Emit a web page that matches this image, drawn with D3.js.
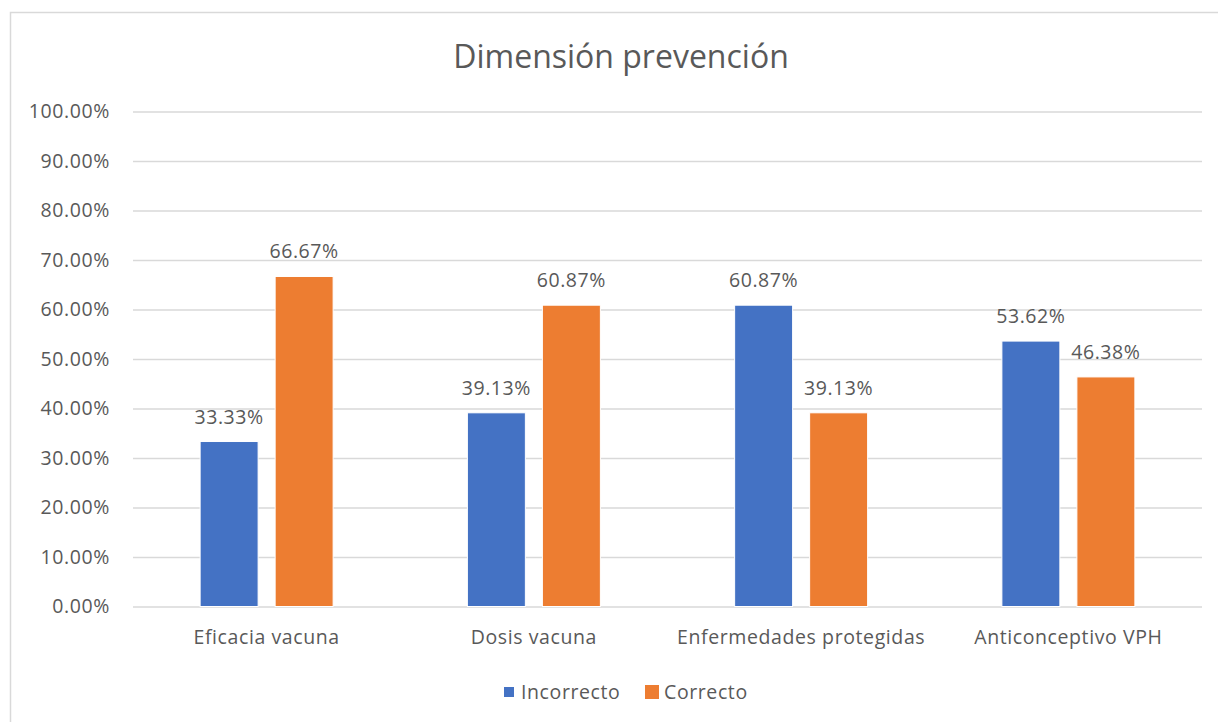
<!DOCTYPE html>
<html>
<head>
<meta charset="utf-8">
<script src="https://cdn.jsdelivr.net/npm/d3@7"></script>
<style>
  body { margin: 0; background: #fff; }
  text { font-family: "Open Sans", sans-serif; fill: #595959; }
</style>
</head>
<body>
<div id="chart"></div>
<script>
var categories = ["Eficacia vacuna", "Dosis vacuna", "Enfermedades protegidas", "Anticonceptivo VPH"]
var series = ["Incorrecto", "Correcto"]
var incorrecto = [33.33, 39.13, 60.87, 53.62]
var correcto = [66.67, 60.87, 39.13, 46.38]
var yTicks = [0, 10, 20, 30, 40, 50, 60, 70, 80, 90, 100]
var colors = ["#4472C4", "#ED7D31"]

var W = 1218, H = 722
var plot_left = 133, plot_right = 1202, plot_top = 111.5, plot_bottom = 606.5
var fs = "19.5px", ls = "0.6px"

var svg = d3.select("#chart").append("svg")
  .attr("width", W)
  .attr("height", H)

// outer chart border (runs off the right and bottom)
svg.append("rect")
  .attr("x", 10.5).attr("y", 12.5)
  .attr("width", 1220).attr("height", 720)
  .style("fill", "none")
  .style("stroke", "#D9D9D9")
  .style("stroke-width", 1.5)

svg.append("text")
  .attr("x", 621).attr("y", 68)
  .attr("text-anchor", "middle")
  .style("font-size", "32px")
  .text("Dimensión prevención")

var x0 = d3.scaleBand().domain(categories).range([plot_left, plot_right]).padding(0)
var x1 = d3.scaleBand().domain(series).range([0, x0.bandwidth()])
  .paddingInner(0.227).paddingOuter(0.895)
var y = d3.scaleLinear().domain([0, 100]).range([plot_bottom, plot_top])

// gridlines + y labels
var yAxis = svg.append("g")
  .attr("transform", "translate(" + plot_left + ",0)")
  .call(d3.axisLeft(y).tickValues(yTicks)
    .tickSize(-(plot_right - plot_left))
    .tickPadding(23)
    .tickFormat(function(d) { return d.toFixed(2) + "%" }))
yAxis.select(".domain").remove()
yAxis.selectAll(".tick line").style("stroke", "#D9D9D9").style("stroke-width", 1.3)
yAxis.selectAll(".tick text").style("font-size", fs).style("letter-spacing", ls)
  .style("fill", "#595959").attr("font-family", null)

var rows = categories.map(function(c, i) {
  return { cat: c, vals: [incorrecto[i], correcto[i]] }
})

var groups = svg.selectAll(".grp")
  .data(rows)
  .enter().append("g")
  .attr("class", "grp")
  .attr("transform", function(d) { return "translate(" + x0(d.cat) + ",0)" })

groups.selectAll("rect")
  .data(function(d) { return d.vals.map(function(v, j) { return { s: series[j], v: v, j: j } }) })
  .enter().append("rect")
  .attr("x", function(d) { return x1(d.s) })
  .attr("y", function(d) { return y(d.v) })
  .attr("width", x1.bandwidth())
  .attr("height", function(d) { return y(0) - y(d.v) })
  .style("fill", function(d) { return colors[d.j] })
  .style("stroke", "#fff")
  .style("stroke-width", 1)

groups.selectAll(".lbl")
  .data(function(d) { return d.vals.map(function(v, j) { return { s: series[j], v: v } }) })
  .enter().append("text")
  .attr("class", "lbl")
  .attr("x", function(d) { return x1(d.s) + x1.bandwidth() / 2 })
  .attr("y", function(d) { return y(d.v) - 18 })
  .attr("text-anchor", "middle")
  .style("font-size", fs).style("letter-spacing", ls)
  .text(function(d) { return d.v.toFixed(2) + "%" })

// category labels
var xAxis = svg.append("g")
  .attr("transform", "translate(0," + plot_bottom + ")")
  .call(d3.axisBottom(x0).tickSize(0).tickPadding(24))
xAxis.select(".domain").remove()
xAxis.selectAll(".tick text").style("font-size", fs).style("letter-spacing", ls)
  .style("fill", "#595959").attr("font-family", null)

// legend
var legend = svg.append("g")
var legendItems = [
  { name: "Incorrecto", x: 504, tx: 521, size: 10 },
  { name: "Correcto", x: 645, tx: 664, size: 14 }
]
legendItems.forEach(function(it, i) {
  legend.append("rect")
    .attr("x", it.x).attr("y", 692 - it.size / 2)
    .attr("width", it.size).attr("height", it.size)
    .style("fill", colors[i])
  legend.append("text")
    .attr("x", it.tx).attr("y", 699)
    .style("font-size", fs).style("letter-spacing", ls)
    .text(it.name)
})
</script>
</body>
</html>
